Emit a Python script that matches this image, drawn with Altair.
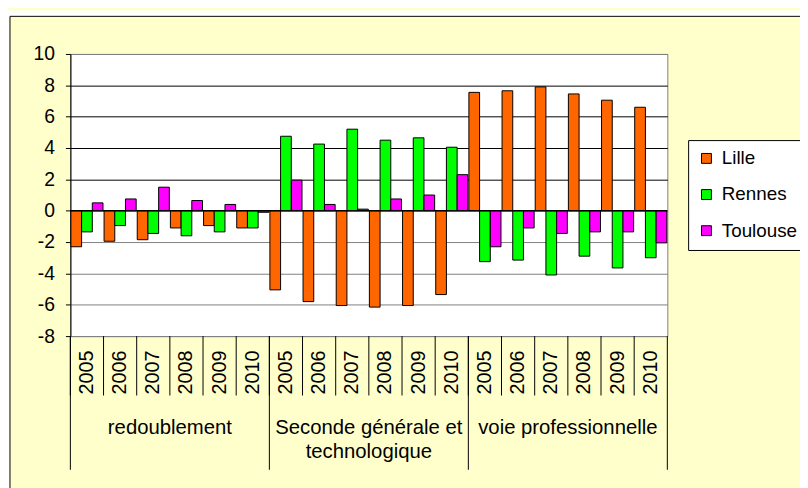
import altair as alt
import pandas as pd

# ---- data ----
groups = ["redoublement", "Seconde générale et\ntechnologique", "voie professionnelle"]
years = ["2005", "2006", "2007", "2008", "2009", "2010"]
series = ["Lille", "Rennes", "Toulouse"]
colors = ["#FF6600", "#00FF00", "#FF00FF"]

lille = [-2.3, -1.95, -1.85, -1.1, -0.95, -1.1,
         -5.05, -5.8, -6.05, -6.15, -6.05, -5.35,
         7.55, 7.65, 7.9, 7.45, 7.05, 6.6]
rennes = [-1.35, -0.95, -1.45, -1.6, -1.35, -1.1,
          4.75, 4.25, 5.2, 4.5, 4.65, 4.05,
          -3.25, -3.15, -4.1, -2.9, -3.65, -3.0]
toulouse = [0.5, 0.75, 1.5, 0.65, 0.4, -0.1,
            1.95, 0.4, 0.1, 0.75, 1.0, 2.3,
            -2.3, -1.1, -1.45, -1.35, -1.35, -2.05]

y_ticks = [-8, -6, -4, -2, 0, 2, 4, 6, 8, 10]

# ---- tables ----
cats = [f"{gi}|{y}" for gi in range(len(groups)) for y in years]
rows = []
for s, vals in zip(series, [lille, rennes, toulouse]):
    for c, v in zip(cats, vals):
        rows.append({"cat": c, "series": s, "value": v})
df = pd.DataFrame(rows)

sep_df = pd.DataFrame({"cat": cats})
grp_start_df = pd.DataFrame({"cat": [cats[i * 6] for i in range(len(groups))]})
grp_end_df = pd.DataFrame({"cat": [cats[-1]]})
grp_label_df = pd.DataFrame({"cat": [cats[i * 6 + 3] for i in range(len(groups))],
                             "label": groups})
zero_df = pd.DataFrame({"value": [0]})
one = pd.DataFrame({"a": [0]})

FONT = "Liberation Sans"
W, H = 603, 285

xscale = alt.Scale(domain=cats, paddingInner=0, paddingOuter=0)
yscale = alt.Scale(domain=[-8, 10], nice=False)
yaxis = alt.Axis(title=None, values=y_ticks, tickSize=5, tickColor="black",
                 domainColor="black", labelPadding=11, labelOverlap=False,
                 labelExpr="toString(datum.value)",
                 labelFont=FONT, labelFontSize=19.5, labelColor="black",
                 grid=True,
                 gridColor={"condition": {"test": "datum.value > 0 && datum.value < 10",
                                          "value": "#000000"},
                            "value": "#808080"})

bars = alt.Chart(df).mark_bar(stroke="black", strokeWidth=1).encode(
    x=alt.X("cat:N", scale=xscale, sort=cats,
            axis=alt.Axis(title=None, labelAngle=270, labelAlign="right",
                          labelBaseline="middle", labelPadding=14, ticks=False,
                          tickSize=0, domain=False, grid=False, labelOverlap=False,
                          labelExpr="slice(datum.label, -4)",
                          labelFont=FONT, labelFontSize=20, labelColor="black")),
    xOffset=alt.XOffset("series:N", sort=series,
                        scale=alt.Scale(domain=series, paddingInner=0, paddingOuter=0.05)),
    y=alt.Y("value:Q", scale=yscale, axis=yaxis),
    color=alt.Color("series:N", scale=alt.Scale(domain=series, range=colors),
                    legend=alt.Legend(title=None, orient="none", legendX=624, legendY=87,
                                      fillColor="white", strokeColor="black", padding=9,
                                      symbolType="square", symbolSize=100,
                                      symbolStrokeColor="black", symbolStrokeWidth=1,
                                      labelFont=FONT, labelFontSize=19, labelColor="black",
                                      labelOffset=6, rowPadding=16.5)),
)

zero = alt.Chart(zero_df).mark_rule(color="black", strokeWidth=1.5).encode(
    y=alt.Y("value:Q", scale=yscale, axis=yaxis)
)

year_seps = alt.Chart(sep_df).mark_rule(color="black", strokeWidth=1).encode(
    x=alt.X("cat:N", sort=cats, bandPosition=0),
    y=alt.value(H), y2=alt.value(H + 60),
)
grp_seps = alt.Chart(grp_start_df).mark_rule(color="black", strokeWidth=1).encode(
    x=alt.X("cat:N", sort=cats, bandPosition=0),
    y=alt.value(H), y2=alt.value(H + 135),
)
grp_end = alt.Chart(grp_end_df).mark_rule(color="black", strokeWidth=1).encode(
    x=alt.X("cat:N", sort=cats, bandPosition=1),
    y=alt.value(H), y2=alt.value(H + 135),
)
grp_labels = alt.Chart(grp_label_df).mark_text(
    font=FONT, fontSize=20.5, color="black", align="center",
    baseline="alphabetic", lineBreak="\n", lineHeight=24,
).encode(
    x=alt.X("cat:N", sort=cats, bandPosition=0),
    y=alt.value(384),
    text="label:N",
)

# chart frame (decoration)
white_top = alt.Chart(one).mark_rect(color="white").encode(
    x=alt.value(-63), x2=alt.value(800), y=alt.value(-44), y2=alt.value(-38))
white_left = alt.Chart(one).mark_rect(color="white").encode(
    x=alt.value(-63), x2=alt.value(-61), y=alt.value(-44), y2=alt.value(500))
frame_top = alt.Chart(one).mark_rule(color="black", strokeWidth=1).encode(
    x=alt.value(-61), x2=alt.value(800), y=alt.value(-38))
frame_left = alt.Chart(one).mark_rule(color="black", strokeWidth=1).encode(
    x=alt.value(-61), y=alt.value(-38), y2=alt.value(500))

chart = alt.layer(
    white_top, white_left, frame_top, frame_left,
    bars, zero, year_seps, grp_seps, grp_end, grp_labels,
).properties(
    width=W, height=H,
    padding={"left": 63, "top": 44, "right": 134, "bottom": 151},
    autosize=alt.AutoSizeParams(type="none"),
    background="#FFFFCC",
).configure_view(
    fill="white", stroke="#808080", strokeWidth=1,
)

chart.save("out.html", embed_options={"renderer": "svg", "actions": False})
